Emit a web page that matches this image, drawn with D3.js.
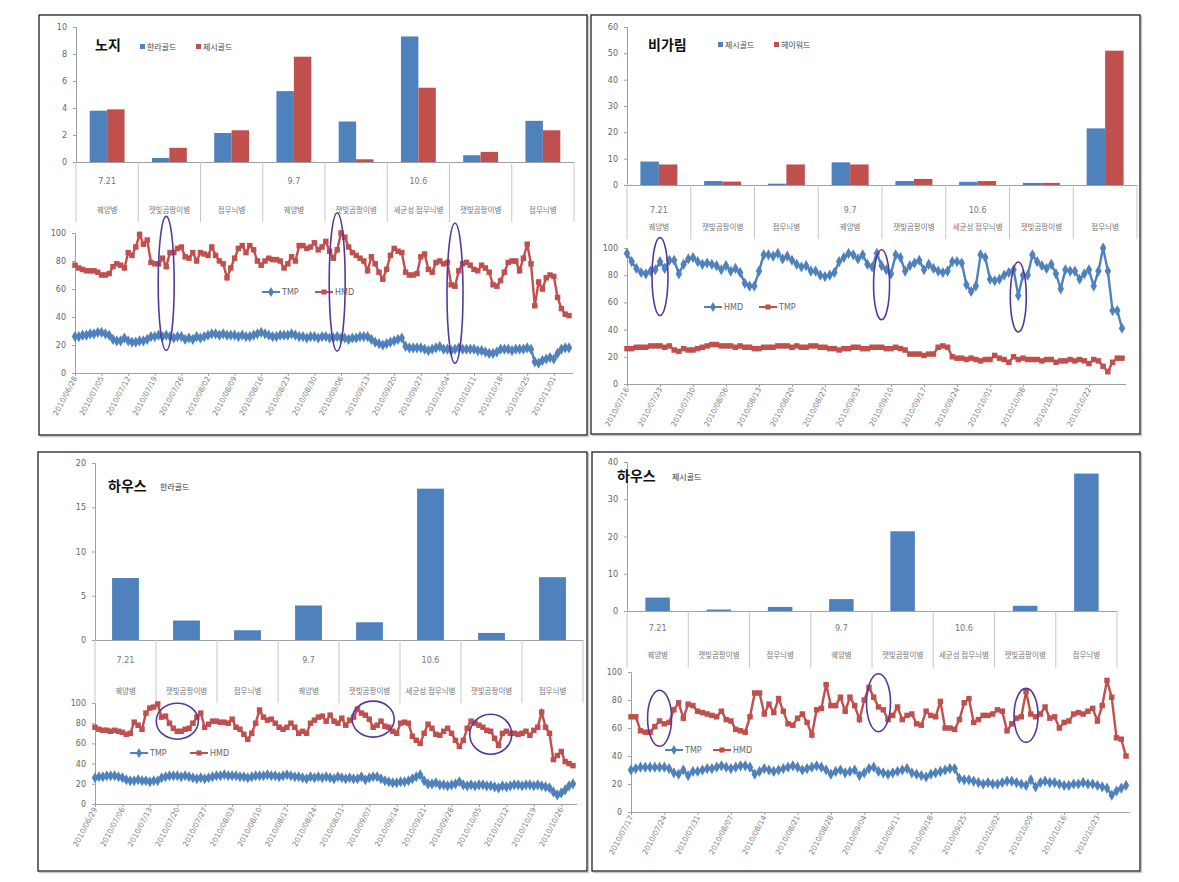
<!DOCTYPE html>
<html><head><meta charset="utf-8">
<script src="https://cdn.jsdelivr.net/npm/d3@7"></script>
<style>
body{margin:0;background:#fff}
svg{display:block}
text{font-family:"Noto Sans CJK KR","DejaVu Sans",sans-serif}
</style>
</head><body>
<svg id="c" width="1179" height="882"></svg>
<script>
// ---------- shared category labels ----------
const CAT_DATES = ["7.21","","","9.7","","10.6","",""];
const CAT_DISEASES = ["궤양병","잿빛곰팡이병","점무늬병","궤양병","잿빛곰팡이병","세균성 점무늬병","잿빛곰팡이병","점무늬병"];

// ---------- panel 1 : 노지 ----------
const P1_TITLE = "노지";
const P1_BAR_NAMES = ["한라골드","제시골드"];
const P1_BAR_A = [3.8,0.3,2.15,5.25,3.0,9.3,0.5,3.05];
const P1_BAR_B = [3.9,1.05,2.35,7.8,0.2,5.5,0.75,2.35];
const P1_BAR_TICKS = [0,2,4,6,8,10];
const P1_START = "2010-06-28";
const P1_TMP = [26,26,27,27,28,28,29, 29,28,27,24,23,23,25, 23,22,22,23,23,24,26, 26,27,26,27,26,25,26,
  26,24,25,24,26,25,26, 27,28,28,27,28,27,27, 27,26,27,26,26,27,28, 29,28,27,26,26,27,27,
  27,28,27,26,26,25,26, 26,25,26,26,25,25,26, 25,25,24,25,25,26,26, 26,24,22,21,20,21,22,
  23,24,25,19,18,18,18, 18,17,16,17,18,19,17, 17,16,17,18,17,17,17, 17,16,16,15,14,14,15,
  17,17,17,16,17,17,17, 18,17,8,7,9,10,11, 10,14,17,18,18];
const P1_HMD = [77,75,74,73,73,73,72, 70,70,71,76,78,77,75, 86,84,90,99,92,95,79, 78,78,82,76,86,86,89,
  90,83,82,86,80,86,85, 84,90,84,80,78,68,75, 82,89,91,86,91,88,80, 77,80,82,81,81,80,75,
  78,83,80,91,91,89,90, 93,88,90,94,87,82,88, 100,97,90,86,84,82,80, 73,83,78,72,67,74,84,
  89,87,86,72,70,70,71, 83,85,74,72,79,80,78, 79,63,62,73,78,79,77, 74,73,77,75,72,63,62,
  66,72,79,80,80,73,82, 92,78,48,65,60,68,70, 69,54,46,42,41];
const P1_DATE_TICKS = ["2010/06/28","2010/07/05","2010/07/12","2010/07/19","2010/07/26","2010/08/02","2010/08/09",
  "2010/08/16","2010/08/23","2010/08/30","2010/09/06","2010/09/13","2010/09/20","2010/09/27","2010/10/04",
  "2010/10/11","2010/10/18","2010/10/25","2010/11/01"];
const P1_MARK_DATES = ["2010-07-22","2010-09-05","2010-10-06"];
const P1_MARK_VALUES = [64,65,57];

// ---------- panel 2 : 비가림 ----------
const P2_TITLE = "비가림";
const P2_BAR_NAMES = ["제시골드","헤이워드"];
const P2_BAR_A = [8.9,1.5,0.5,8.6,1.5,1.2,0.8,21.5];
const P2_BAR_B = [7.8,1.3,7.8,7.8,2.3,1.5,0.8,51.0];
const P2_BAR_TICKS = [0,10,20,30,40,50,60];
const P2_START = "2010-07-16";
const P2_HMD = [96,90,85,82,81,83,84, 90,85,91,91,81,88,92, 93,90,88,89,88,87,84, 87,83,85,82,74,72,72,
  83,95,95,94,96,92,94, 91,88,86,87,83,83,80, 79,80,82,90,93,96,95, 92,95,88,86,96,87,84,
  81,95,93,83,87,89,91, 84,88,85,83,82,83,90, 90,89,73,68,72,95,93, 77,76,77,80,82,84,65,
  80,80,95,90,87,85,88, 81,70,84,83,83,77,81, 84,72,83,100,83,54,54, 41];
const P2_TMP = [26,26,27,27,27,28,28, 28,27,28,25,24,26,25, 25,26,27,28,29,29,28, 28,28,27,28,27,27,26,
  26,27,27,27,28,28,28, 27,28,27,27,28,28,27, 27,26,26,25,26,26,27, 27,26,26,27,27,27,26,
  26,27,26,25,22,22,22, 21,22,22,27,28,27,20, 19,19,18,19,18,17,18, 18,21,19,18,16,20,18,
  19,18,18,18,17,18,18, 16,17,17,18,17,18,17, 15,18,17,13,9,16,19, 19];
const P2_DATE_TICKS = ["2010/07/16","2010/07/23","2010/07/30","2010/08/06","2010/08/13","2010/08/20","2010/08/27",
  "2010/09/03","2010/09/10","2010/09/17","2010/09/24","2010/10/01","2010/10/08","2010/10/15","2010/10/22"];
const P2_MARK_DATES = ["2010-07-23","2010-09-08","2010-10-07"];
const P2_MARK_VALUES = [79,73,64];

// ---------- panel 3 : 하우스 한라골드 ----------
const P3_TITLE = "하우스";
const P3_SUBTITLE = "한라골드";
const P3_BAR_A = [7.0,2.2,1.1,3.9,2.0,17.1,0.8,7.1];
const P3_BAR_TICKS = [0,5,10,15,20];
const P3_START = "2010-06-29";
const P3_TMP = [26,27,27,28,28,28,27, 26,24,23,23,24,23,23, 22,23,23,26,27,28,28, 28,27,28,27,26,25,26,
  25,26,27,28,28,29,28, 28,28,27,27,26,27,28, 28,28,29,28,28,27,28, 29,28,27,27,26,25,27,
  26,27,26,27,26,25,27, 26,25,26,25,25,27,24, 26,27,27,25,23,22,21, 21,22,22,23,25,27,29,
  23,20,20,21,19,19,18, 19,20,22,19,18,19,18, 19,19,18,18,17,16,18, 17,18,19,19,18,19,19,
  18,19,18,17,16,12,9, 11,14,18,20];
const P3_HMD = [76,74,73,73,72,73,72, 71,69,70,81,78,74,90, 95,96,99,86,87,80,75, 72,72,74,75,80,86,90,
  76,79,82,82,81,81,80, 84,76,74,69,64,70,80, 93,86,83,84,80,76,74, 76,80,76,70,72,70,80,
  83,86,87,82,88,82,80, 85,78,83,86,94,90,88, 84,76,78,82,77,76,72, 70,80,81,80,67,63,60,
  70,79,75,69,68,72,75, 70,63,57,63,75,82,80, 78,76,73,72,65,58,70, 72,70,70,69,70,72,68,
  73,76,91,76,70,44,48, 52,42,40,38];
const P3_DATE_TICKS = ["2010/06/29","2010/07/06","2010/07/13","2010/07/20","2010/07/27","2010/08/03","2010/08/10",
  "2010/08/17","2010/08/24","2010/08/31","2010/09/07","2010/09/14","2010/09/21","2010/09/28","2010/10/05",
  "2010/10/12","2010/10/19","2010/10/26"];
const P3_MARK_DATES = ["2010-07-20","2010-09-08","2010-10-08"];
const P3_MARK_VALUES = [82,84,69];

// ---------- panel 4 : 하우스 제시골드 ----------
const P4_TITLE = "하우스";
const P4_SUBTITLE = "제시골드";
const P4_BAR_A = [3.6,0.4,1.1,3.2,21.4,0,1.4,36.9];
const P4_BAR_TICKS = [0,10,20,30,40];
const P4_START = "2010-07-17";
const P4_TMP = [30,31,32,32,32,32,32, 32,31,28,27,30,26,29, 29,30,31,31,32,33,32, 31,32,33,33,32,27,29,
  31,30,29,30,31,32,33, 32,30,31,32,33,32,30, 27,29,30,28,29,30,26, 28,31,32,29,28,27,28,
  29,30,31,28,27,26,25, 27,28,29,30,31,31,24, 23,23,22,21,20,21,20, 20,21,22,22,21,20,19,
  23,18,21,22,21,21,20, 19,19,20,20,21,20,20, 19,18,17,12,15,17,19];
const P4_HMD = [68,68,58,57,57,61,65, 63,64,73,78,67,77,76, 72,71,70,69,68,72,66, 65,59,58,57,68,85,85,
  70,77,71,81,72,63,62, 67,70,64,55,73,74,91, 76,76,82,72,82,76,66, 80,89,82,75,73,66,69,
  75,66,69,70,63,62,72, 69,68,79,60,60,59,66, 78,81,64,66,69,69,70, 73,72,58,63,67,68,86,
  70,68,70,75,67,68,60, 64,65,70,71,70,72,74, 65,76,94,82,53,52,40];
const P4_DATE_TICKS = ["2010/07/17","2010/07/24","2010/07/31","2010/08/07","2010/08/14","2010/08/21","2010/08/28",
  "2010/09/04","2010/09/11","2010/09/18","2010/09/25","2010/10/02","2010/10/09","2010/10/16","2010/10/23"];
const P4_MARK_DATES = ["2010-07-23","2010-09-07","2010-10-08"];
const P4_MARK_VALUES = [67,78,69];

// ---------- styles ----------
const BLUE = "#4F81BD", RED = "#C0504D", PURPLE = "#55389c";
const AXIS = "#a0a0a0", LABEL = "#666";
const parseISO = d3.timeParse("%Y-%m-%d");
const parseSlash = d3.timeParse("%Y/%m/%d");
const fmtSlash = d3.timeFormat("%Y/%m/%d");

const svg = d3.select("#c");

function styleAxis(sel){
  sel.select(".domain").attr("stroke",AXIS).attr("stroke-width",1);
  sel.selectAll(".tick line").attr("stroke",AXIS);
  sel.selectAll(".tick text").attr("fill",LABEL).style("font-size","8px").style("font-family","'DejaVu Sans',sans-serif");
}

function drawBox(b){
  svg.append("rect").attr("x",b[0]+1.5).attr("y",b[1]+1.5).attr("width",b[2]-b[0]).attr("height",b[3]-b[1])
    .attr("fill","none").attr("stroke","#c8c8c8").attr("stroke-width",1.5);
  svg.append("rect").attr("x",b[0]).attr("y",b[1]).attr("width",b[2]-b[0]).attr("height",b[3]-b[1])
    .attr("fill","#fff").attr("stroke","#222").attr("stroke-width",1.3);
}

function drawBars(c){
  const g = svg.append("g");
  const x = d3.scaleBand().domain(d3.range(CAT_DISEASES.length)).range([c.x0,c.x1]);
  const y = d3.scaleLinear().domain([0,c.yMax]).range([c.y0,c.yTop]);
  const inner = d3.scaleBand().domain(d3.range(c.series.length))
    .range([x.bandwidth()*(1-c.groupFrac)/2, x.bandwidth()*(1+c.groupFrac)/2]);
  const ya = g.append("g").attr("transform",`translate(${c.x0},0)`)
    .call(d3.axisLeft(y).tickValues(c.ticks).tickSize(3).tickPadding(6).tickFormat(d3.format("d")));
  styleAxis(ya);
  c.series.forEach((s,si)=>{
    g.append("g").selectAll("rect").data(s.values).join("rect")
      .attr("x",(d,i)=>x(i)+inner(si)).attr("width",inner.bandwidth())
      .attr("y",d=>y(d)).attr("height",d=>c.y0-y(d)).attr("fill",s.color);
  });
  const xa = g.append("g").attr("transform",`translate(0,${c.y0})`)
    .call(d3.axisBottom(x).tickSize(0).tickFormat(""));
  xa.select(".domain").attr("stroke",AXIS);
  const bounds = d3.range(CAT_DISEASES.length+1).map(i=> i<CAT_DISEASES.length ? x(i) : c.x1);
  g.append("g").selectAll("line").data(bounds).join("line")
    .attr("x1",d=>d).attr("x2",d=>d).attr("y1",c.y0).attr("y2",c.sepBottom)
    .attr("stroke","#c8c8c8").attr("stroke-width",1);
  g.append("g").selectAll("text").data(CAT_DATES).join("text")
    .attr("x",(d,i)=>x(i)+x.bandwidth()/2).attr("y",c.l1y).attr("text-anchor","middle")
    .attr("fill","#777").style("font-size","8px").style("font-family","'DejaVu Sans',sans-serif").text(d=>d);
  g.append("g").selectAll("text").data(CAT_DISEASES).join("text")
    .attr("x",(d,i)=>x(i)+x.bandwidth()/2).attr("y",c.l2y).attr("text-anchor","middle")
    .attr("fill","#777").style("font-size","7.5px").text(d=>d);
}

function marker(type,size){ return d3.symbol().type(type==="diamond"?d3.symbolDiamond:d3.symbolSquare).size(size)(); }

function drawLines(c){
  const g = svg.append("g");
  const start = parseISO(c.start);
  const n = d3.max(c.series,s=>s.values.length);
  const end = d3.timeDay.offset(start,n-1);
  const x = d3.scaleTime().domain([start,end]).range([c.x0,c.x1]);
  const y = d3.scaleLinear().domain([0,100]).range([c.y0,c.yTop]);
  const ya = g.append("g").attr("transform",`translate(${c.x0},0)`)
    .call(d3.axisLeft(y).tickValues([0,20,40,60,80,100]).tickSize(3).tickPadding(6));
  styleAxis(ya);
  const tickDates = c.dateTicks.map(parseSlash);
  const xa = g.append("g").attr("transform",`translate(0,${c.y0})`)
    .call(d3.axisBottom(x).tickValues(tickDates).tickSize(3).tickFormat(fmtSlash));
  styleAxis(xa);
  xa.select(".domain").attr("d",`M${c.x0},0.5H${c.x1+4}`);
  xa.selectAll(".tick text").attr("text-anchor","end").attr("dy",null)
    .attr("transform","translate(2,5) rotate(-62)").attr("y",0).attr("x",0)
    .style("font-size","7.5px").attr("fill","#808080");
  c.series.forEach(s=>{
    const pts = s.values.map((v,i)=>[x(d3.timeDay.offset(start,i)),y(v)]);
    g.append("path").attr("d",d3.line()(pts)).attr("fill","none").attr("stroke",s.color).attr("stroke-width",2.4);
    const sz = s.marker==="diamond"?36:30;
    g.append("g").selectAll("path").data(pts).join("path")
      .attr("transform",d=>`translate(${d[0]},${d[1]})`).attr("d",marker(s.marker,sz)).attr("fill",s.color);
  });
  c.series.forEach((s,i)=>{
    const lx = c.legend[i][0], ly = c.legend[i][1];
    g.append("line").attr("x1",lx).attr("x2",lx+18).attr("y1",ly).attr("y2",ly).attr("stroke",s.color).attr("stroke-width",2);
    g.append("path").attr("transform",`translate(${lx+9},${ly})`).attr("d",marker(s.marker,s.marker==="diamond"?30:26)).attr("fill",s.color);
    g.append("text").attr("x",lx+20).attr("y",ly+3).attr("fill",LABEL).style("font-size","8px")
      .style("font-family","'DejaVu Sans',sans-serif").text(s.name);
  });
  c.marks.dates.forEach((d,i)=>{
    g.append("ellipse").attr("cx",x(parseISO(d))).attr("cy",y(c.marks.values[i]))
      .attr("rx",c.marks.rx).attr("ry",c.marks.ry[i]).attr("fill","none").attr("stroke",PURPLE).attr("stroke-width",1.6);
  });
}

function title(x,y,t,sub,subX){
  svg.append("text").attr("x",x).attr("y",y).attr("fill","#111").style("font-size","14px").style("font-weight","bold").text(t);
  if(sub) svg.append("text").attr("x",subX).attr("y",y-1).attr("fill","#333").style("font-size","8px").text(sub);
}
function barLegend(items){
  items.forEach(it=>{
    svg.append("rect").attr("x",it.x).attr("y",it.y-6).attr("width",5).attr("height",5).attr("fill",it.color);
    svg.append("text").attr("x",it.x+7).attr("y",it.y).attr("fill","#444").style("font-size","8px").text(it.name);
  });
}

// ---------- panel 1 ----------
drawBox([39,15,587,435]);
drawBars({x0:76,x1:574,y0:162,yTop:27,yMax:10,ticks:P1_BAR_TICKS,groupFrac:0.56,l1y:184,l2y:213,sepBottom:222,
  series:[{values:P1_BAR_A,color:BLUE},{values:P1_BAR_B,color:RED}]});
title(95,50,P1_TITLE);
barLegend([{x:140,y:50,color:BLUE,name:P1_BAR_NAMES[0]},{x:196,y:50,color:RED,name:P1_BAR_NAMES[1]}]);
drawLines({x0:75,x1:569,y0:373,yTop:233,start:P1_START,dateTicks:P1_DATE_TICKS,
  series:[{name:"TMP",values:P1_TMP,color:BLUE,marker:"diamond"},{name:"HMD",values:P1_HMD,color:RED,marker:"square"}],
  legend:[[262,292],[315,292]],
  marks:{dates:P1_MARK_DATES,values:P1_MARK_VALUES,rx:8,ry:[67,69,70]}});

// ---------- panel 2 ----------
drawBox([591,15,1140,434]);
drawBars({x0:627,x1:1137,y0:185,yTop:27,yMax:60,ticks:P2_BAR_TICKS,groupFrac:0.58,l1y:213,l2y:230,sepBottom:239,
  series:[{values:P2_BAR_A,color:BLUE},{values:P2_BAR_B,color:RED}]});
title(648,50,P2_TITLE);
barLegend([{x:718,y:48,color:BLUE,name:P2_BAR_NAMES[0]},{x:774,y:48,color:RED,name:P2_BAR_NAMES[1]}]);
drawLines({x0:627,x1:1122,y0:384,yTop:248,start:P2_START,dateTicks:P2_DATE_TICKS,
  series:[{name:"HMD",values:P2_HMD,color:BLUE,marker:"diamond"},{name:"TMP",values:P2_TMP,color:RED,marker:"square"}],
  legend:[[704,307],[759,307]],
  marks:{dates:P2_MARK_DATES,values:P2_MARK_VALUES,rx:8,ry:[39,35,35]}});

// ---------- panel 3 ----------
drawBox([38,452,587,871]);
drawBars({x0:95,x1:583,y0:640,yTop:463,yMax:20,ticks:P3_BAR_TICKS,groupFrac:0.44,l1y:663,l2y:694,sepBottom:703,
  series:[{values:P3_BAR_A,color:BLUE}]});
title(108,491,P3_TITLE,P3_SUBTITLE,160);
drawLines({x0:95,x1:573,y0:804,yTop:703,start:P3_START,dateTicks:P3_DATE_TICKS,
  series:[{name:"TMP",values:P3_TMP,color:BLUE,marker:"diamond"},{name:"HMD",values:P3_HMD,color:RED,marker:"square"}],
  legend:[[130,753],[190,753]],
  marks:{dates:P3_MARK_DATES,values:P3_MARK_VALUES,rx:21,ry:[18,18,20]}});

// ---------- panel 4 ----------
drawBox([592,452,1140,871]);
drawBars({x0:627,x1:1117,y0:611,yTop:462,yMax:40,ticks:P4_BAR_TICKS,groupFrac:0.4,l1y:631,l2y:658,sepBottom:668,
  series:[{values:P4_BAR_A,color:BLUE}]});
title(617,481,P4_TITLE,P4_SUBTITLE,672);
drawLines({x0:631,x1:1126,y0:812,yTop:672,start:P4_START,dateTicks:P4_DATE_TICKS,
  series:[{name:"TMP",values:P4_TMP,color:BLUE,marker:"diamond"},{name:"HMD",values:P4_HMD,color:RED,marker:"square"}],
  legend:[[665,750],[713,750]],
  marks:{dates:P4_MARK_DATES,values:P4_MARK_VALUES,rx:12,ry:[28,29,27]}});
</script>
</body></html>
